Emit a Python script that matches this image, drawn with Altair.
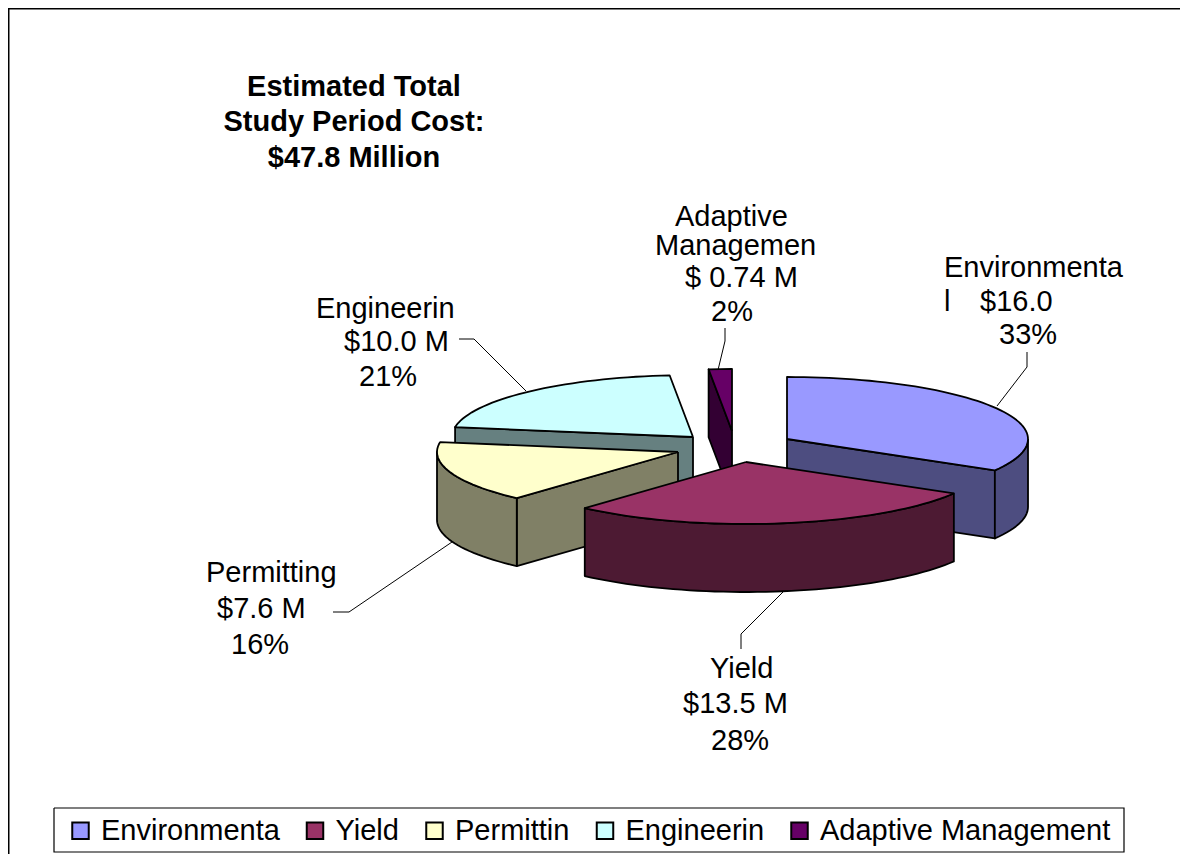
import math
import altair as alt
import pandas as pd

# ---- chart values ----
categories = ["Environmenta", "Yield", "Permittin", "Engineerin", "Adaptive Management"]
costs = [16.0, 13.5, 7.6, 10.0, 0.74]
top_colors = ["#9999FF", "#993366", "#FFFFCC", "#CCFFFF", "#660066"]
side_colors = ["#4D4D80", "#4D1A33", "#808066", "#668080", "#330033"]

title_lines = ["Estimated Total", "Study Period Cost:", "$47.8 Million"]
label_texts = [
    "Adaptive", "Managemen", "$ 0.74 M", "2%",
    "Environmenta", "l", "$16.0", "33%",
    "Engineerin", "$10.0 M", "21%",
    "Permitting", "$7.6 M", "16%",
    "Yield", "$13.5 M", "28%",
]

# ---- layout (page pixels, minus the 8px page margin when drawn) ----
W, H = 1172, 846
OFF = 8
RX, RY, DEPTH = 241, 62, 68
centers = {
    "Environmenta": (787, 439),
    "Yield": (746, 462),
    "Permittin": (678, 452),
    "Engineerin": (693, 437),
    "Adaptive Management": (732, 431),
}
label_pos = [
    (675, 217), (655, 246), (685, 278), (711, 312),
    (944, 268), (944, 302), (980, 302), (999, 335),
    (316, 309), (344, 342), (359, 377),
    (206, 573), (217, 609), (231, 645),
    (710, 669), (683, 704), (711, 741),
]
title_y = [87, 122, 158]
leaders = [
    [(718, 370), (725, 341), (725, 328)],
    [(997, 406), (1027, 367), (1027, 352)],
    [(526, 391), (474, 339), (459, 339)],
    [(452, 542), (349, 612), (333, 612)],
    [(783, 592), (741, 634), (741, 649)],
]
legend_box = [(54, 808), (1124, 808), (1124, 852), (54, 852), (54, 808)]

# ---- slice geometry derived from the values ----
total = sum(costs)
bounds = {}
a = 0.0
for c, v in zip(categories, costs):
    bounds[c] = (a, a + v / total * 360)
    a += v / total * 360


def pt(c, deg, dz=0):
    cx, cy = centers[c]
    r = math.radians(deg)
    return (cx + RX * math.sin(r), cy - RY * math.cos(r) + dz)


def arc(c, a0, a1):
    n = max(2, int(abs(a1 - a0) / 2) + 1)
    return [pt(c, a0 + (a1 - a0) * i / (n - 1)) for i in range(n)]


rows = []
pid = 0


def add(key, pts):
    global pid
    pid += 1
    pts = list(pts) + [pts[0]]
    for i, (x, y) in enumerate(pts):
        rows.append({"poly": pid, "key": key, "i": i, "x": x - OFF, "y": y - OFF})


def slice_polys(c, rim=None, cut=None):
    a0, a1 = bounds[c]
    cx, cy = centers[c]
    side = c + " side"
    if cut is not None:
        e = pt(c, cut)
        add(side, [(cx, cy), e, (e[0], e[1] + DEPTH), (cx, cy + DEPTH)])
    if rim is not None:
        top = arc(c, rim[0], rim[1])
        add(side, top + [(x, y + DEPTH) for x, y in reversed(top)])
    add(c, [(cx, cy)] + arc(c, a0, a1))


ang = {c: bounds[c] for c in categories}
slice_polys("Adaptive Management", cut=ang["Adaptive Management"][0])
slice_polys("Engineerin", cut=ang["Engineerin"][0])
slice_polys("Environmenta", rim=(90, ang["Environmenta"][1]), cut=ang["Environmenta"][1])
slice_polys("Permittin", rim=(ang["Permittin"][0], 270), cut=ang["Permittin"][0])
slice_polys("Yield", rim=ang["Yield"])

df = pd.DataFrame(rows)

X = alt.X("x:Q", scale=alt.Scale(domain=[0, W], range=[0, W]), axis=None)
Y = alt.Y("y:Q", scale=alt.Scale(domain=[0, H], range=[0, H]), axis=None)

legend = alt.Legend(
    values=categories, title=None, orient="none", legendX=58, legendY=808,
    columns=5, symbolType="square", symbolSize=272, symbolStrokeColor="black",
    symbolStrokeWidth=2, labelFontSize=29, labelFont="Liberation Sans", labelColor="black",
    labelOffset=6, columnPadding=20.5, padding=0,
    labelLimit=400, symbolOpacity=1, gridAlign="each",
)

pie = alt.Chart(df).mark_line(filled=True, stroke="black", strokeWidth=1.8, strokeJoin="round", interpolate="linear").encode(
    x=X, y=Y,
    order="i:Q",
    detail="poly:N",
    fill=alt.Fill(
        "key:N",
        scale=alt.Scale(domain=categories + [c + " side" for c in categories], range=top_colors + side_colors),
        legend=legend,
    ),
)

lead_rows = []
for n, seg in enumerate(leaders):
    for i, (x, y) in enumerate(seg):
        lead_rows.append({"n": n, "i": i, "x": x - OFF, "y": y - OFF})
leader_layer = alt.Chart(pd.DataFrame(lead_rows)).mark_line(color="black", strokeWidth=1).encode(
    x=X, y=Y, order="i:Q", detail="n:N"
)

frame = alt.Chart(pd.DataFrame([
    {"n": 0, "i": 0, "x": 0, "y": H}, {"n": 0, "i": 1, "x": 0, "y": 0}, {"n": 0, "i": 2, "x": W, "y": 0},
])).mark_line(color="black", strokeWidth=3, clip=False).encode(x=X, y=Y, order="i:Q")

box_df = pd.DataFrame({
    "i": list(range(len(legend_box))),
    "x": [p[0] - OFF for p in legend_box],
    "y": [p[1] - OFF for p in legend_box],
})
box = alt.Chart(box_df).mark_line(color="black", strokeWidth=1.2).encode(x=X, y=Y, order="i:Q")

label_df = pd.DataFrame({
    "t": label_texts,
    "x": [p[0] - OFF for p in label_pos],
    "y": [p[1] - OFF for p in label_pos],
})
labels = alt.Chart(label_df).mark_text(
    align="left", baseline="middle", font="Liberation Sans", fontSize=29, color="black"
).encode(x=X, y=Y, text="t:N")

title_df = pd.DataFrame({"t": title_lines, "x": [354 - OFF] * 3, "y": [v - OFF for v in title_y]})
title = alt.Chart(title_df).mark_text(
    align="center", baseline="middle", font="Liberation Sans", fontSize=29, fontWeight="bold", color="black"
).encode(x=X, y=Y, text="t:N")

chart = alt.layer(frame, box, leader_layer, pie, labels, title).properties(
    width=W, height=H, padding=0, autosize=alt.AutoSizeParams(type="none"), background="white"
).configure_view(stroke=None)

chart.save("out.html", embed_options={"renderer": "svg", "actions": False})
